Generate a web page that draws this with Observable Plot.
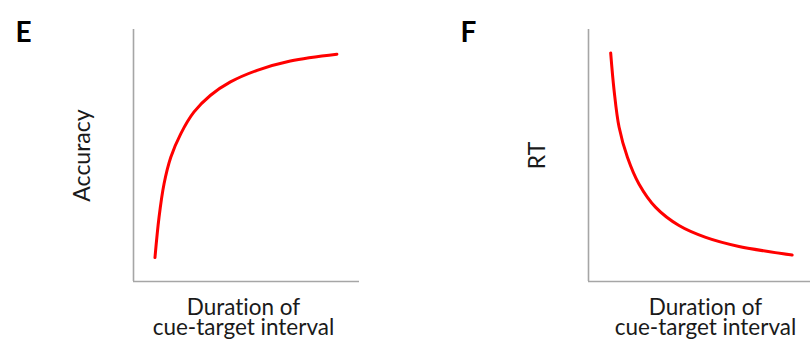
<!DOCTYPE html>
<html>
<head>
<meta charset="utf-8">
<script src="https://cdn.jsdelivr.net/npm/d3@7"></script>
<script src="https://cdn.jsdelivr.net/npm/@observablehq/plot@0.6"></script>
<style>
  html, body { margin: 0; padding: 0; background: #fff; }
  #wrap { position: relative; width: 810px; height: 341px; overflow: hidden; }
  #wrap > div { position: absolute; top: 0; }
  svg text { font-variant-ligatures: none; font-feature-settings: "liga" 0, "clig" 0; }
</style>
</head>
<body>
<div id="wrap"><div id="pe" style="left:0"></div><div id="pf" style="left:405px"></div></div>
<script>
// Panel E: Accuracy vs duration of cue-target interval (arbitrary units)
const durationE = [9.5, 11.3, 13.5, 16.5, 20.9, 26.7, 34.1, 42.9, 54.7, 69.4, 90.0];
const accuracy  = [9.5, 25.5, 38.7, 49.3, 58.6, 67.2, 73.9, 79.2, 83.8, 87.5, 90.2];
// Panel F: RT vs duration of cue-target interval (arbitrary units)
const durationF = [9.8, 11.3, 13.5, 17.2, 22.3, 29.7, 40.0, 51.8, 66.5, 90.0];
const rt        = [90.7, 75.9, 61.3, 49.3, 38.7, 29.4, 22.2, 17.5, 13.9, 10.5];

const panelLabels = ["E", "F"];
const yLabels = ["Accuracy", "RT"];
const xLabel = "Duration of\ncue-target interval";

const FONT = "Lato, 'Open Sans', sans-serif";
const AXIS = "#a6a6a6";
const RED = "#ff0000";

function panel({xs, ys, letter, ylab, marginLeft, marginRight, xMax, letterDx, xlabDx}) {
  const data = xs.map((x, i) => ({x, y: ys[i]}));
  return Plot.plot({
    width: 405,
    height: 341,
    marginLeft, marginRight,
    marginTop: 29,
    marginBottom: 60,
    style: {fontFamily: FONT, color: "#111", background: "transparent", overflow: "visible"},
    x: {domain: [0, xMax], axis: null},
    y: {domain: [0, 100], axis: null},
    marks: [
      Plot.ruleX([0], {stroke: AXIS, strokeWidth: 1.6}),
      Plot.ruleY([0], {stroke: AXIS, strokeWidth: 1.6}),
      Plot.line(data, {x: "x", y: "y", stroke: RED, strokeWidth: 3, curve: "catmull-rom"}),
      Plot.text([letter], {text: d => d, frameAnchor: "top-left", textAnchor: "start", lineAnchor: "top",
        dx: letterDx, dy: -7, fontSize: 28, fontWeight: "bold", fill: "#000"}),
      Plot.text([ylab], {text: d => d, frameAnchor: "left", rotate: -90, textAnchor: "middle",
        lineAnchor: "middle", dx: -51, fontSize: 23, fill: "#1a1a1a"}),
      Plot.text([xLabel], {text: d => d, frameAnchor: "bottom", textAnchor: "middle", lineAnchor: "top",
        dx: xlabDx, dy: 19, lineHeight: 0.9, fontSize: 22.5, fill: "#1a1a1a"})
    ]
  });
}

document.getElementById("pe").append(panel({
  xs: durationE, ys: accuracy, letter: panelLabels[0], ylab: yLabels[0],
  marginLeft: 133, marginRight: 46, xMax: 100, letterDx: -118, xlabDx: -3
}));
document.getElementById("pf").append(panel({
  xs: durationF, ys: rt, letter: panelLabels[1], ylab: yLabels[1],
  marginLeft: 183, marginRight: 0, xMax: 98.1, letterDx: -128, xlabDx: 6
}));
</script>
</body>
</html>
